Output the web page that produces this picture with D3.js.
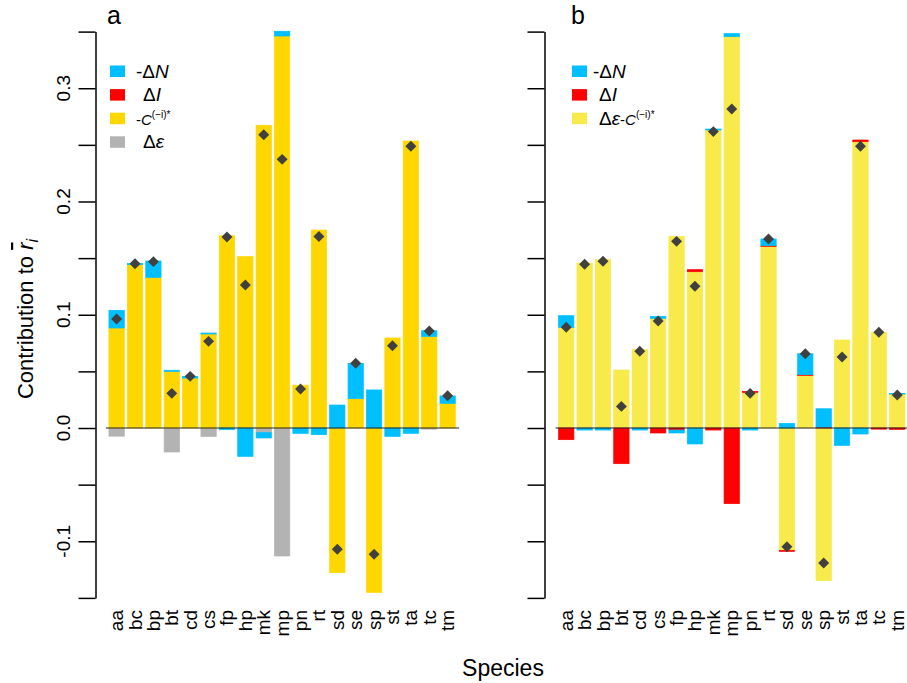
<!DOCTYPE html>
<html>
<head>
<meta charset="utf-8">
<script src="https://cdn.jsdelivr.net/npm/d3@7"></script>
<style>
  body { margin: 0; background: #fff; }
  svg { display: block; font-family: "Liberation Sans", Arial, Helvetica, sans-serif; }
</style>
</head>
<body>
<svg id="chart" width="907" height="683"></svg>
<script>
// ---- data ----
const species = ["aa","bc","bp","bt","cd","cs","fp","hp","mk","mp","pn","rt","sd","se","sp","st","ta","tc","tm"];
const yTicks  = [-0.15,-0.1,-0.05,0,0.05,0.1,0.15,0.2,0.25,0.3,0.35];
const yLabels = [-0.1,0,0.1,0.2,0.3];

// panel a: components stacked in this order (Δε, -C, ΔI, -ΔN)
const aEps  = [-0.0072,0,0,-0.0212,0,-0.0074,0,0,-0.0041,-0.113,0,0,0,0,0,0,0,-0.001,0];
const aNegC = [0.0883,0.1442,0.133,0.050,0.0441,0.083,0.1698,0.1513,0.2673,0.3461,0.0378,0.1748,-0.1277,0.0259,-0.1451,0.0795,0.2534,0.0809,0.0218];
const aDI   = [0,0,0,0,0,0,0,0,0,0,0,0,0,0,0,0,0,0,0];
const aNegN = [0.0156,0.001,0.0145,0.001,0.0015,0.0009,-0.0015,-0.025,-0.0047,0.0042,-0.0047,-0.0059,0.0203,0.0312,0.0336,-0.0074,-0.0047,0.005,0.0065];
const aTotal = [0.0962,0.145,0.1469,0.0306,0.0456,0.0765,0.1687,0.1263,0.259,0.2372,0.0344,0.169,-0.1071,0.0571,-0.1115,0.0727,0.2487,0.0856,0.0285];

// panel b: components stacked in this order (Δε-C, ΔI, -ΔN)
const bEpsC = [0.0889,0.1457,0.1489,0.0512,0.0695,0.0968,0.1692,0.138,0.2631,0.3455,0.0315,0.1604,-0.108,0.0465,-0.1348,0.0777,0.2528,0.0845,0.030];
const bDI   = [-0.0103,0,0,-0.0315,0,-0.0044,-0.0018,0.0018,-0.0018,-0.0668,0.0009,0.0006,-0.0009,0.0006,0.0008,0,0.0015,-0.001,-0.0012];
const bNegN = [0.0103,-0.0018,-0.0018,0,-0.0018,0.0018,-0.0026,-0.0141,0.0009,0.0027,-0.0018,0.0059,0.0041,0.0185,0.0162,-0.0153,-0.0053,0,0.0005];
const bTotal = [0.0889,0.1445,0.1472,0.0191,0.0677,0.0945,0.1648,0.1251,0.2617,0.2817,0.0306,0.1669,-0.1048,0.0656,-0.1192,0.0627,0.2487,0.0845,0.0291];

const col = {
  negN: "#00BFFF",
  dI:   "#FF0000",
  negC: "#FFD700",
  eps:  "#B3B3B3",
  epsC: "#F7EA4A",
  point:"#404040"
};

// ---- layout ----
const svg = d3.select("#chart");
const unit = 15.325;              // one bar width in px
const y = d3.scaleLinear().domain([-0.15, 0.35]).range([597.9, 31.6]);
const fmt = d3.formatLocale({decimal: ".", thousands: ",", grouping: [3], currency: ["", ""], minus: "-"}).format(".1f");

const diamond = {
  draw(ctx, size) {
    const r = Math.sqrt(size / 2);
    ctx.moveTo(0, -r); ctx.lineTo(r, 0); ctx.lineTo(0, r); ctx.lineTo(-r, 0); ctx.closePath();
  }
};

function drawPanel(opt) {
  const g = svg.append("g");
  const x = d3.scaleBand()
    .domain(species)
    .range([opt.x0 + 0.2 * unit, opt.x0 + 22.8 * unit])
    .paddingInner(1 / 6)
    .paddingOuter(0);

  // stacked bars: positives upward, negatives downward, in component order
  species.forEach((sp, i) => {
    let pos = 0, neg = 0;
    opt.parts.forEach(p => {
      const v = p.values[i];
      if (v >= 0) {
        g.append("rect")
          .attr("x", x(sp)).attr("width", x.bandwidth())
          .attr("y", y(pos + v)).attr("height", y(pos) - y(pos + v))
          .attr("fill", p.color).attr("stroke", p.color).attr("stroke-width", 0.7);
        pos += v;
      }
      if (v <= 0) {
        g.append("rect")
          .attr("x", x(sp)).attr("width", x.bandwidth())
          .attr("y", y(neg)).attr("height", y(neg + v) - y(neg))
          .attr("fill", p.color).attr("stroke", p.color).attr("stroke-width", 0.7);
        neg += v;
      }
    });
  });

  // zero line
  g.append("line")
    .attr("x1", opt.x0).attr("x2", opt.x0 + 23.05 * unit)
    .attr("y1", y(0)).attr("y2", y(0))
    .attr("stroke", "#222").attr("stroke-width", 1.2);

  // totals
  g.selectAll("path.pt").data(opt.totals).join("path")
    .attr("class", "pt")
    .attr("transform", (d, i) => `translate(${x(species[i]) + x.bandwidth() / 2},${y(d)})`)
    .attr("d", d3.symbol().type(diamond).size(60))
    .attr("fill", col.point);

  // y axis
  const ax = g.append("g")
    .attr("transform", `translate(${opt.axisX},0)`)
    .call(d3.axisLeft(y).tickValues(yTicks).tickSize(17).tickSizeOuter(0).tickFormat(""));
  ax.selectAll("path,line").attr("stroke", "#000").attr("stroke-width", 1.5);

  if (opt.tickLabels) {
    g.selectAll("text.yl").data(yLabels).join("text")
      .attr("class", "yl")
      .attr("transform", d => `translate(70,${y(d)}) rotate(-90)`)
      .attr("text-anchor", "middle")
      .attr("font-size", 19)
      .text(d => fmt(d));
  }

  // species labels
  g.selectAll("text.xl").data(species).join("text")
    .attr("class", "xl")
    .attr("transform", d => `translate(${x(d) + x.bandwidth() / 2 + 6.5},610) rotate(-90)`)
    .attr("text-anchor", "end")
    .attr("font-size", 19)
    .text(d => d);

  // panel letter
  g.append("text").attr("x", opt.letterX).attr("y", 24)
    .attr("font-size", 25).text(opt.letter);

  // legend
  opt.legend.forEach((item, k) => {
    const top = 65.5 + k * 23.6;
    g.append("rect")
      .attr("x", opt.legendX).attr("y", top)
      .attr("width", 15).attr("height", 11.5)
      .attr("fill", item.color);
    const t = g.append("text")
      .attr("x", opt.legendX + item.dx).attr("y", top + 12)
      .attr("font-size", 19);
    item.spans.forEach(s => {
      const ts = t.append("tspan").text(s.t);
      if (s.it) ts.attr("font-style", "italic");
      if (s.fs) ts.attr("font-size", s.fs);
      if (s.dy) ts.attr("dy", s.dy);
    });
  });
}

const legNegN = dx => ({color: col.negN, dx, spans: [{t: "-Δ"}, {t: "N", it: true}]});
const legDI   = dx => ({color: col.dI, dx, spans: [{t: "Δ"}, {t: "I", it: true}]});

drawPanel({
  x0: 105.9, axisX: 95.5, tickLabels: true, letter: "a", letterX: 107,
  parts: [
    {values: aEps,  color: col.eps},
    {values: aNegC, color: col.negC},
    {values: aDI,   color: col.dI},
    {values: aNegN, color: col.negN}
  ],
  totals: aTotal,
  legendX: 110,
  legend: [
    legNegN(26),
    legDI(33),
    {color: col.negC, dx: 26, spans: [{t: "-", fs: 15}, {t: "C", it: true, fs: 15}, {t: "(−i)*", fs: 10, dy: -7}]},
    {color: col.eps, dx: 33, spans: [{t: "Δ"}, {t: "ε", it: true}]}
  ]
});

drawPanel({
  x0: 555.5, axisX: 544.5, tickLabels: false, letter: "b", letterX: 571,
  parts: [
    {values: bEpsC, color: col.epsC},
    {values: bDI,   color: col.dI},
    {values: bNegN, color: col.negN}
  ],
  totals: bTotal,
  legendX: 572,
  legend: [
    legNegN(21),
    legDI(27),
    {color: col.epsC, dx: 27, spans: [{t: "Δ"}, {t: "ε", it: true}, {t: "-", fs: 15}, {t: "C", it: true, fs: 15}, {t: "(−i)*", fs: 10, dy: -7}]}
  ]
});

// axis titles
const yt = svg.append("text")
  .attr("transform", "translate(33,319) rotate(-90)")
  .attr("text-anchor", "middle")
  .attr("font-size", 22);
yt.append("tspan").text("Contribution to ");
yt.append("tspan").text("r").attr("font-style", "italic").style("text-decoration", "overline");
yt.append("tspan").text("i").attr("font-style", "italic").attr("font-size", 16).attr("dy", 5);

svg.append("text")
  .attr("x", 503).attr("y", 676)
  .attr("text-anchor", "middle")
  .attr("font-size", 23)
  .text("Species");
</script>
</body>
</html>
